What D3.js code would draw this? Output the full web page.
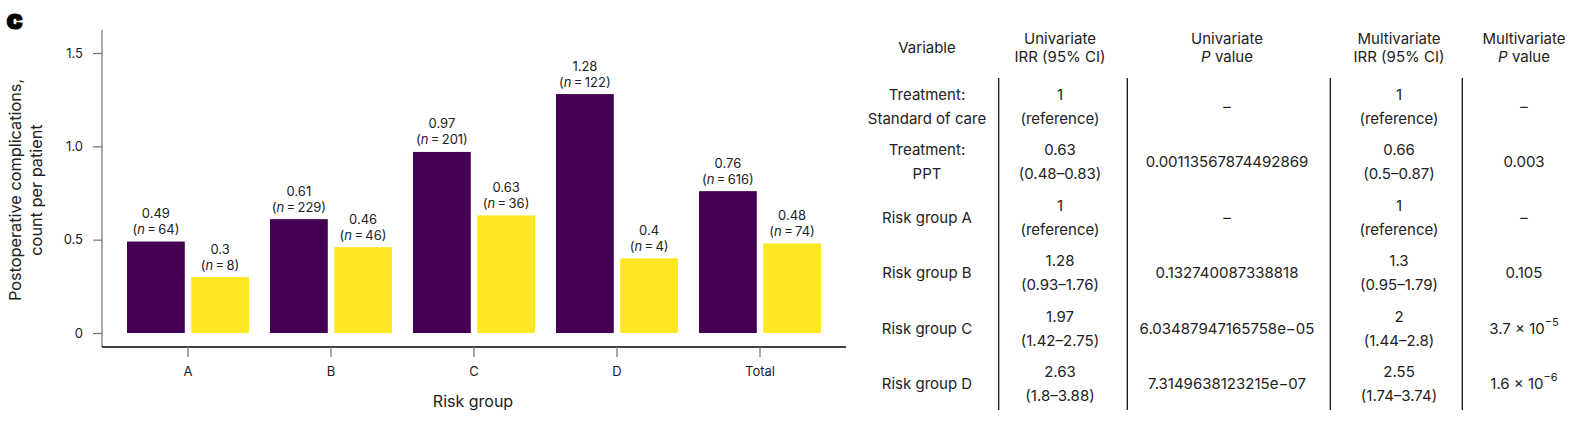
<!DOCTYPE html>
<html>
<head>
<meta charset="utf-8">
<script src="https://cdn.jsdelivr.net/npm/d3@7"></script>
<style>
  html, body { margin: 0; padding: 0; background: #fff; }
  svg text { font-family: Inter, "Noto Sans", sans-serif; fill: #222; }
</style>
</head>
<body>
<svg id="chart" width="1575" height="429"></svg>
<script>
// ---------- DATA ----------
const categories = ["A", "B", "C", "D", "Total"];
const series = ["Standard of care", "PPT"];
const socValues = [0.49, 0.61, 0.97, 1.28, 0.76];
const socN = [64, 229, 201, 122, 616];
const pptValues = [0.3, 0.46, 0.63, 0.4, 0.48];
const pptN = [8, 46, 36, 4, 74];
const yTickValues = [0, 0.5, 1.0, 1.5];
const yTickLabels = ["0", "0.5", "1.0", "1.5"];
const yTitle = ["Postoperative complications,", "count per patient"];
const xTitle = "Risk group";

const tableHeaders = [
  ["Variable"],
  ["Univariate", "IRR (95% CI)"],
  ["Univariate", "*P* value"],
  ["Multivariate", "IRR (95% CI)"],
  ["Multivariate", "*P* value"]
];
const variables = [
  ["Treatment:", "Standard of care"],
  ["Treatment:", "PPT"],
  ["Risk group A"],
  ["Risk group B"],
  ["Risk group C"],
  ["Risk group D"]
];
const uniIRR = [
  ["1", "(reference)"],
  ["0.63", "(0.48\u20130.83)"],
  ["1", "(reference)"],
  ["1.28", "(0.93\u20131.76)"],
  ["1.97", "(1.42\u20132.75)"],
  ["2.63", "(1.8\u20133.88)"]
];
const uniP = [
  ["\u2013"],
  ["0.00113567874492869"],
  ["\u2013"],
  ["0.132740087338818"],
  ["6.03487947165758e\u221205"],
  ["7.3149638123215e\u221207"]
];
const multiIRR = [
  ["1", "(reference)"],
  ["0.66", "(0.5\u20130.87)"],
  ["1", "(reference)"],
  ["1.3", "(0.95\u20131.79)"],
  ["2", "(1.44\u20132.8)"],
  ["2.55", "(1.74\u20133.74)"]
];
const multiP = [
  ["\u2013"],
  ["0.003"],
  ["\u2013"],
  ["0.105"],
  ["3.7 \u00d7 10^\u22125"],
  ["1.6 \u00d7 10^\u22126"]
];

// ---------- LAYOUT ----------
const svg = d3.select("#chart");
const colors = { "Standard of care": "#440154", "PPT": "#FDE725" };
const ink = "#222";
const plot = { left: 102, right: 846, top: 30, bottom: 347 };

const x = d3.scaleBand().domain(categories).range([116.5, 831.5])
  .paddingInner(0.147).paddingOuter(0.0735);
const xs = d3.scaleBand().domain(series).range([0, x.bandwidth()]).paddingInner(0.1);
const y = d3.scaleLinear().domain([0, 1.5]).range([333, 53]);

// panel label
svg.append("text").attr("x", 6.5).attr("y", 29.3).attr("font-size", 27)
  .attr("font-weight", 900).style("fill", "#000")
  .attr("stroke", "#000").attr("stroke-width", 1.2).text("c");

// y axis
const yAxisG = svg.append("g").attr("transform", `translate(${plot.left},0)`);
yAxisG.append("line").attr("x1", 0).attr("x2", 0).attr("y1", plot.top).attr("y2", plot.bottom)
  .attr("stroke", "#7a7a7a").attr("stroke-width", 1.3);
const yAxis = d3.axisLeft(y).tickValues(yTickValues)
  .tickFormat((d, i) => yTickLabels[i]).tickSize(9).tickPadding(10);
yAxisG.call(yAxis);
yAxisG.select(".domain").remove();
yAxisG.selectAll(".tick line").attr("stroke", "#7a7a7a").attr("stroke-width", 1.3);
yAxisG.selectAll(".tick text").attr("font-size", 13).style("fill", ink)
  .attr("font-family", "Inter, 'Noto Sans', sans-serif");

// x axis
const xAxisG = svg.append("g").attr("transform", `translate(0,${plot.bottom})`);
xAxisG.append("line").attr("x1", plot.left).attr("x2", plot.right).attr("y1", 0).attr("y2", 0)
  .attr("stroke", "#000").attr("stroke-width", 1.3);
const xAxis = d3.axisBottom(x).tickSize(10).tickPadding(10);
xAxisG.call(xAxis);
xAxisG.select(".domain").remove();
xAxisG.selectAll(".tick line").attr("stroke", "#7a7a7a").attr("stroke-width", 1.3);
xAxisG.selectAll(".tick text").attr("font-size", 13).style("fill", ink)
  .attr("font-family", "Inter, 'Noto Sans', sans-serif");

// axis titles
svg.append("text").attr("x", 473).attr("y", 406.5)
  .attr("text-anchor", "middle").attr("font-size", 16).text(xTitle);
const yt = svg.append("text").attr("transform", "translate(0,190) rotate(-90)")
  .attr("text-anchor", "middle").attr("font-size", 16.3);
yTitle.forEach((t, i) => {
  yt.append("tspan").attr("x", 0).attr("y", 20.5 + i * 21).text(t);
});

// bars
const barData = [];
categories.forEach((c, i) => {
  barData.push({ cat: c, s: series[0], v: socValues[i], n: socN[i] });
  barData.push({ cat: c, s: series[1], v: pptValues[i], n: pptN[i] });
});
const bars = svg.append("g");
bars.selectAll("rect").data(barData).join("rect")
  .attr("x", d => x(d.cat) + xs(d.s))
  .attr("width", xs.bandwidth())
  .attr("y", d => y(d.v))
  .attr("height", d => y(0) - y(d.v))
  .attr("fill", d => colors[d.s]);

const labels = svg.append("g");
barData.forEach(d => {
  const cx = x(d.cat) + xs(d.s) + xs.bandwidth() / 2;
  const top = y(d.v);
  labels.append("text").attr("x", cx).attr("y", top - 23.5)
    .attr("text-anchor", "middle").attr("font-size", 13).text(String(d.v));
  const t2 = labels.append("text").attr("x", cx).attr("y", top - 7.5)
    .attr("text-anchor", "middle").attr("font-size", 13);
  t2.append("tspan").text("(");
  t2.append("tspan").attr("font-style", "italic").text("n");
  t2.append("tspan").text("\u2009=\u2009" + d.n + ")");
});

// ---------- TABLE ----------
const colX = [927, 1060, 1227, 1399, 1524];
const lineX = [998.7, 1127.3, 1330.3, 1462.3];
const rowY = d3.scaleBand().domain(d3.range(variables.length)).range([79, 411.5]);
const lineGap = 23.8;
const tfs = 15;

const tbl = svg.append("g");

function addText(cx, cy, txt) {
  const t = tbl.append("text").attr("x", cx).attr("y", cy).attr("dy", "0.35em")
    .attr("text-anchor", "middle").attr("font-size", tfs);
  if (txt.includes("*")) {
    const parts = txt.split("*");
    parts.forEach((p, k) => {
      if (p === "") return;
      const ts = t.append("tspan").text(p);
      if (k % 2 === 1) ts.attr("font-style", "italic");
    });
  } else if (txt.includes("^")) {
    const [base, sup] = txt.split("^");
    t.append("tspan").text(base);
    t.append("tspan").attr("font-size", 11).attr("dy", "-0.7em").text(sup);
  } else {
    t.text(txt);
  }
}

function addCell(colIdx, cy, lines) {
  lines.forEach((ln, k) => addText(colX[colIdx], cy + (k - (lines.length - 1) / 2) * lineGap, ln));
}

// headers
tableHeaders.forEach((h, j) => {
  const cy = 47.8;
  h.forEach((ln, k) => addText(colX[j], cy + (k - (h.length - 1) / 2) * 17.7, ln));
});

const columns = [variables, uniIRR, uniP, multiIRR, multiP];
variables.forEach((_, i) => {
  const cy = rowY(i) + rowY.bandwidth() / 2;
  columns.forEach((col, j) => addCell(j, cy, col[i]));
});

lineX.forEach(lx => {
  tbl.append("line").attr("x1", lx).attr("x2", lx).attr("y1", 78).attr("y2", 410)
    .attr("stroke", "#000").attr("stroke-width", 1.2);
});
</script>
</body>
</html>
